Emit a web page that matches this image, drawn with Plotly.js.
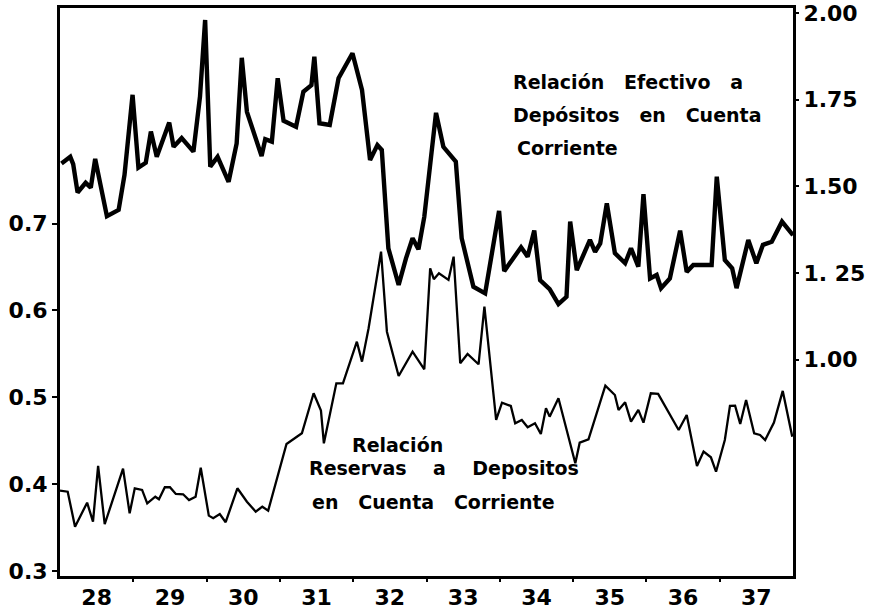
<!DOCTYPE html>
<html>
<head>
<meta charset="utf-8">
<script src="https://cdn.plot.ly/plotly-3.0.1.min.js"></script>
<style>html,body{margin:0;padding:0;background:#fff;}#chart{width:881px;height:612px;}</style>
</head>
<body>
<div id="chart"></div>
<script>
// Relación Efectivo a Depósitos en Cuenta Corriente (right axis)
const efectivoYears = [1928.02,1928.14,1928.18,1928.24,1928.35,1928.42,1928.48,1928.64,1928.80,1928.88,1928.99,
  1929.07,1929.17,1929.24,1929.32,1929.49,1929.55,1929.66,1929.82,1929.91,1929.98,
  1930.05,1930.15,1930.30,1930.41,1930.48,1930.55,1930.75,1930.80,1930.89,1930.97,
  1931.05,1931.22,1931.32,1931.43,1931.47,1931.54,1931.68,1931.80,1931.99,
  1932.12,1932.23,1932.33,1932.39,1932.48,1932.62,1932.72,1932.81,1932.89,1932.97,
  1933.13,1933.23,1933.40,1933.48,1933.64,1933.80,1933.99,
  1934.06,1934.29,1934.38,1934.47,1934.55,1934.68,1934.80,1934.91,1934.96,
  1935.05,1935.23,1935.30,1935.37,1935.46,1935.57,1935.71,1935.79,1935.89,1935.96,
  1936.05,1936.14,1936.20,1936.32,1936.46,1936.55,1936.64,1936.89,1936.96,
  1937.07,1937.17,1937.23,1937.39,1937.50,1937.59,1937.71,1937.85,1938.00];
const efectivoValues = [1.566,1.585,1.564,1.482,1.510,1.496,1.579,1.414,1.432,1.533,1.764,
  1.554,1.568,1.658,1.585,1.684,1.614,1.639,1.600,1.759,1.980,
  1.557,1.585,1.513,1.624,1.871,1.715,1.587,1.636,1.629,1.812,
  1.689,1.672,1.773,1.792,1.874,1.682,1.677,1.812,1.884,
  1.778,1.576,1.619,1.605,1.321,1.215,1.292,1.350,1.318,1.412,
  1.712,1.614,1.571,1.350,1.210,1.191,1.429,
  1.255,1.324,1.297,1.372,1.229,1.203,1.160,1.181,1.398,
  1.258,1.345,1.311,1.335,1.451,1.307,1.278,1.321,1.268,1.477,
  1.234,1.244,1.206,1.234,1.372,1.253,1.273,1.273,1.528,
  1.287,1.263,1.206,1.345,1.278,1.331,1.340,1.398,1.359];

// Relación Reservas a Depositos en Cuenta Corriente (left axis)
const reservasYears = [1928.00,1928.105,1928.205,1928.37,1928.45,1928.52,1928.61,1928.86,1928.95,
  1929.02,1929.12,1929.19,1929.30,1929.35,1929.43,1929.50,1929.58,1929.68,1929.76,1929.85,1929.92,
  1930.03,1930.09,1930.18,1930.26,1930.42,1930.55,1930.67,1930.76,1930.84,
  1931.09,1931.18,1931.30,1931.46,1931.56,1931.60,1931.77,1931.86,
  1932.05,1932.12,1932.21,1932.38,1932.46,1932.62,1932.81,1932.97,
  1933.05,1933.10,1933.17,1933.30,1933.37,1933.46,1933.56,1933.71,1933.79,1933.95,
  1934.03,1934.15,1934.21,1934.30,1934.38,1934.48,1934.56,1934.63,1934.68,1934.80,
  1935.03,1935.09,1935.21,1935.44,1935.57,1935.62,1935.71,1935.79,1935.89,1935.96,
  1936.06,1936.16,1936.44,1936.55,1936.69,1936.78,1936.88,1936.95,
  1937.07,1937.14,1937.21,1937.28,1937.36,1937.47,1937.55,1937.62,1937.74,1937.86,1937.99];
const reservasValues = [0.3925,0.3913,0.351,0.3786,0.3568,0.4209,0.3538,0.4178,0.3664,
  0.3952,0.3933,0.3779,0.3855,0.3826,0.3964,0.3964,0.3887,0.3883,0.3817,0.3855,0.4189,
  0.3637,0.3607,0.3656,0.3561,0.3952,0.3798,0.3683,0.3740,0.3694,
  0.4462,0.4516,0.4585,0.5046,0.4846,0.4470,0.5161,0.5161,
  0.5640,0.5410,0.5794,0.6676,0.5755,0.5245,0.5525,0.5322,
  0.6485,0.6359,0.6428,0.6351,0.6619,0.5391,0.5499,0.5380,0.6043,0.4739,
  0.4938,0.4900,0.4701,0.4739,0.4655,0.4701,0.4577,0.4873,0.4777,0.4988,
  0.4240,0.4477,0.4516,0.5134,0.5026,0.4854,0.4942,0.4719,0.4854,0.4708,
  0.5046,0.5038,0.4623,0.4796,0.4209,0.4374,0.4309,0.4143,
  0.4508,0.4900,0.4903,0.4693,0.4969,0.4585,0.4566,0.4508,0.4708,0.5073,0.4546];

const yearLabelPos = [1928.5,1929.5,1930.5,1931.5,1932.5,1933.5,1934.5,1935.5,1936.5,1937.5];
const yearLabels = ["28","29","30","31","32","33","34","35","36","37"];
const yearBoundaries = [1929,1930,1931,1932,1933,1934,1935,1936,1937];
const leftTicks = [0.3,0.4,0.5,0.6,0.7];
const leftTickText = ["0.3","0.4","0.5","0.6","0.7"];
const rightTicks = [1.00,1.25,1.50,1.75,2.00];
const rightTickText = ["1.00","1. 25","1.50","1.75","2.00"];

const FONT = "DejaVu Sans, sans-serif";
const tickFont = {family: FONT, size: 22, color: "#000", weight: "bold"};

const traces = [
  {x: efectivoYears, y: efectivoValues, type: "scatter", mode: "lines", yaxis: "y2", xaxis: "x",
   line: {color: "#000", width: 4.4}, hoverinfo: "skip"},
  {x: reservasYears, y: reservasValues, type: "scatter", mode: "lines", yaxis: "y", xaxis: "x",
   line: {color: "#000", width: 2.3}, hoverinfo: "skip"},
  {x: [1928.5], y: [0.5], xaxis: "x2", yaxis: "y", mode: "markers", marker: {opacity: 0}, hoverinfo: "skip"}
];

function ann(text, x, y, anchor) {
  return {text: text, xref: "paper", yref: "paper", x: x, y: y, xanchor: anchor, yanchor: "middle",
          showarrow: false, font: {family: FONT, size: 19, color: "#000", weight: "bold"}};
}

const layout = {
  width: 881, height: 612,
  margin: {l: 60, r: 88, t: 8, b: 36, pad: 0},
  paper_bgcolor: "#fff", plot_bgcolor: "#fff",
  showlegend: false,
  xaxis: {range: [1928, 1938], tickvals: yearLabelPos, ticktext: yearLabels, ticks: "",
          showgrid: false, zeroline: false, showline: true, linecolor: "#000", linewidth: 3, mirror: true,
          tickfont: tickFont, ticklabelstandoff: 0},
  xaxis2: {range: [1928, 1938], overlaying: "x", side: "bottom", tickvals: yearBoundaries, showticklabels: false,
           ticks: "outside", ticklen: 5, tickwidth: 2, tickcolor: "#000", showgrid: false, zeroline: false, showline: false},
  yaxis: {range: [0.2942, 0.9482], tickvals: leftTicks, ticktext: leftTickText, ticks: "outside", ticklen: 5,
          tickwidth: 2, tickcolor: "#000", showgrid: false, zeroline: false, showline: true, linecolor: "#000",
          linewidth: 3, mirror: true, tickfont: tickFont},
  yaxis2: {range: [0.375, 2.0147], overlaying: "y", side: "right", tickvals: rightTicks, ticktext: rightTickText,
           ticks: "outside", ticklen: 5, tickwidth: 2, tickcolor: "#000", showgrid: false, zeroline: false,
           showline: false, tickfont: tickFont},
  annotations: [
    ann("Relación   Efectivo   a", 0.615, 0.870, "left"),
    ann("Depósitos   en   Cuenta", 0.615, 0.812, "left"),
    ann("Corriente", 0.621, 0.754, "left"),
    ann("Relación", 0.461, 0.231, "center"),
    ann("Reservas    a    Depositos", 0.337, 0.190, "left"),
    ann("en   Cuenta   Corriente", 0.341, 0.130, "left")
  ]
};

Plotly.newPlot("chart", traces, layout, {staticPlot: true, displayModeBar: false});
</script>
</body>
</html>
